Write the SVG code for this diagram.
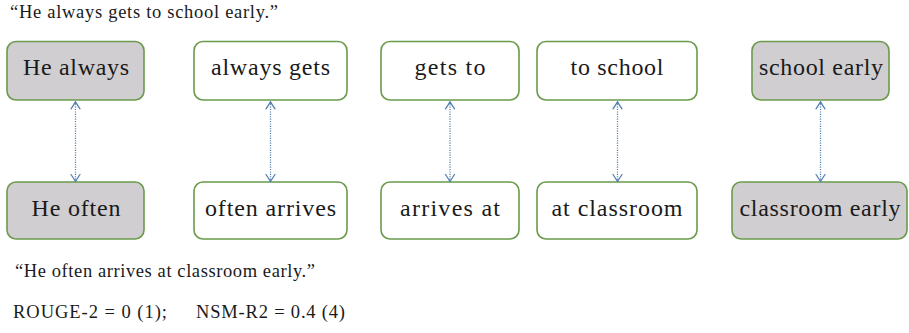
<svg xmlns="http://www.w3.org/2000/svg" width="909" height="333" viewBox="0 0 909 333">
  <style>
    .box { stroke: #6a9a4c; stroke-width: 1.6; }
    .plain { fill: #ffffff; }
    .shade { fill: #d0ced0; }
    .lbl { font-family: "Liberation Serif", "Times New Roman", serif; font-size: 24px; fill: #1a1a1a; text-anchor: middle; }
    .cap { font-family: "Liberation Serif", "Times New Roman", serif; font-size: 18.5px; fill: #1a1a1a; }
    .link { stroke: #5581b0; stroke-width: 1.3; stroke-dasharray: 1.1 1.3; fill: none; }
  </style>
  <defs>
    <marker id="tip" viewBox="-9 -6 10 12" refX="0" refY="0" markerWidth="10" markerHeight="12" markerUnits="userSpaceOnUse" orient="auto-start-reverse">
      <path d="M-7,-4.5 Q-3,-1.8 0,0 Q-3,1.8 -7,4.5" fill="none" stroke="#5581b0" stroke-width="1.3" stroke-linecap="round"/>
    </marker>
  </defs>

  <!-- sentence captions -->
  <text class="cap" x="10" y="18" textLength="268" lengthAdjust="spacing">“He always gets to school early.”</text>
  <text class="cap" x="15" y="277" textLength="300" lengthAdjust="spacing">“He often arrives at classroom early.”</text>
  <text class="cap" x="13" y="318" textLength="154" lengthAdjust="spacing">ROUGE-2 = 0 (1);</text>
  <text class="cap" x="196" y="318" textLength="149" lengthAdjust="spacing">NSM-R2 = 0.4 (4)</text>

  <!-- upper row: bigrams of the first sentence -->
  <g id="r1">
    <rect class="box shade" x="7" y="41.5" width="137" height="58.5" rx="9"/>
    <text class="lbl" x="76" y="75" textLength="106" lengthAdjust="spacing">He always</text>
  </g>
  <g id="r2">
    <rect class="box plain" x="194" y="41.5" width="153" height="58.5" rx="9"/>
    <text class="lbl" x="270.5" y="75" textLength="119" lengthAdjust="spacing">always gets</text>
  </g>
  <g id="r3">
    <rect class="box plain" x="381" y="41.5" width="138" height="58.5" rx="9"/>
    <text class="lbl" x="450" y="75" textLength="71" lengthAdjust="spacing">gets to</text>
  </g>
  <g id="r4">
    <rect class="box plain" x="537" y="41.5" width="160" height="58.5" rx="9"/>
    <text class="lbl" x="617" y="75" textLength="93" lengthAdjust="spacing">to school</text>
  </g>
  <g id="r5">
    <rect class="box shade" x="752" y="41.5" width="137" height="58.5" rx="9"/>
    <text class="lbl" x="821" y="75" textLength="124" lengthAdjust="spacing">school early</text>
  </g>

  <!-- lower row: bigrams of the second sentence -->
  <g id="c1">
    <rect class="box shade" x="7" y="182" width="137" height="57" rx="9"/>
    <text class="lbl" x="76" y="216" textLength="89" lengthAdjust="spacing">He often</text>
  </g>
  <g id="c2">
    <rect class="box plain" x="194" y="182" width="153" height="57" rx="9"/>
    <text class="lbl" x="270.5" y="216" textLength="131" lengthAdjust="spacing">often arrives</text>
  </g>
  <g id="c3">
    <rect class="box plain" x="381" y="182" width="138" height="57" rx="9"/>
    <text class="lbl" x="450" y="216" textLength="100" lengthAdjust="spacing">arrives at</text>
  </g>
  <g id="c4">
    <rect class="box plain" x="537" y="182" width="160" height="57" rx="9"/>
    <text class="lbl" x="617" y="216" textLength="131" lengthAdjust="spacing">at classroom</text>
  </g>
  <g id="c5">
    <rect class="box shade" x="732" y="182" width="175" height="57" rx="9"/>
    <text class="lbl" x="820" y="216" textLength="161" lengthAdjust="spacing">classroom early</text>
  </g>

  <!-- alignment links between paired bigrams -->
  <g id="links">
    <line class="link" x1="75.5" y1="101.8" x2="75.5" y2="181.5" marker-start="url(#tip)" marker-end="url(#tip)"/>
    <line class="link" x1="270.5" y1="101.8" x2="270.5" y2="181.5" marker-start="url(#tip)" marker-end="url(#tip)"/>
    <line class="link" x1="450" y1="101.8" x2="450" y2="181.5" marker-start="url(#tip)" marker-end="url(#tip)"/>
    <line class="link" x1="617.5" y1="101.8" x2="617.5" y2="181.5" marker-start="url(#tip)" marker-end="url(#tip)"/>
    <line class="link" x1="820.5" y1="101.8" x2="820.5" y2="181.5" marker-start="url(#tip)" marker-end="url(#tip)"/>
  </g>
</svg>
